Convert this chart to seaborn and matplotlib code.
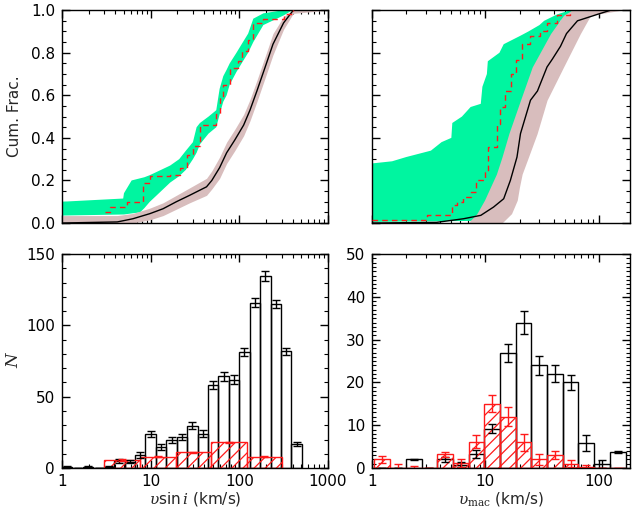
import numpy as np
import matplotlib
matplotlib.use("Agg")
import matplotlib.pyplot as plt
import seaborn as sns
from matplotlib.ticker import MultipleLocator, LogLocator, NullFormatter

# ---- top left: cumulative vsini ----
vs_all_x = [1, 4.2, 6.3, 9.8, 13.8, 19.5, 27.5, 42.7, 49, 60, 72, 89, 112, 132, 158, 195, 240, 316, 407, 1000]
vs_all_y = [0, 0.005, 0.02, 0.044, 0.067, 0.10, 0.13, 0.17, 0.20, 0.26, 0.33, 0.39, 0.46, 0.53, 0.62, 0.73, 0.84, 0.94, 1.0, 1.0]
# pink band edges (same x as the full sample)
vs_all_lo = [0, 0, 0, 0.015, 0.035, 0.065, 0.095, 0.13, 0.16, 0.21, 0.28, 0.34, 0.41, 0.48, 0.57, 0.68, 0.79, 0.91, 0.985, 1.0]
vs_all_hi = [0.035, 0.035, 0.045, 0.07, 0.095, 0.13, 0.165, 0.21, 0.245, 0.31, 0.38, 0.44, 0.51, 0.58, 0.67, 0.78, 0.89, 0.97, 1.0, 1.0]

vs_sub_x = [3.05, 3.5, 5.4, 8.2, 9.8, 16.6, 21.4, 25.5, 30, 36, 55, 60, 66, 78, 97, 106, 126, 144, 187, 316, 400]
vs_sub_y = [0.05, 0.075, 0.10, 0.19, 0.22, 0.225, 0.26, 0.32, 0.36, 0.46, 0.51, 0.59, 0.65, 0.73, 0.76, 0.81, 0.86, 0.94, 0.96, 0.98, 1.0]
# green band: upper and lower edges
vs_hi_x = [1, 4.9, 5.0, 6.1, 7.6, 8.5, 9.8, 11.7, 16.6, 21, 25, 30, 33, 36, 45, 55, 60, 66, 72, 78, 93, 110, 126, 144, 187, 316, 400]
vs_hi_y = [0.10, 0.115, 0.14, 0.20, 0.21, 0.215, 0.225, 0.24, 0.27, 0.30, 0.34, 0.38, 0.45, 0.47, 0.50, 0.53, 0.63, 0.69, 0.72, 0.75, 0.80, 0.85, 0.89, 0.96, 0.985, 1.0, 1.0]
vs_lo_x = vs_hi_x
vs_lo_y = [0.035, 0.04, 0.04, 0.045, 0.05, 0.07, 0.10, 0.13, 0.19, 0.22, 0.25, 0.30, 0.33, 0.37, 0.42, 0.45, 0.51, 0.57, 0.60, 0.65, 0.71, 0.76, 0.80, 0.85, 0.93, 0.975, 1.0]

# ---- top right: cumulative vmac ----
vm_all_x = [1, 3.7, 6.4, 9.1, 11.8, 14.5, 16.6, 19, 20.4, 25, 28.8, 35, 39, 46, 52, 65, 85, 104, 128, 190]
vm_all_y = [0, 0.003, 0.02, 0.036, 0.075, 0.114, 0.20, 0.31, 0.42, 0.577, 0.62, 0.733, 0.77, 0.83, 0.89, 0.95, 0.97, 0.985, 1.0, 1.0]
# pink band given as left / right x at fixed cumulative levels
vm_pk_y = [0, 0.044, 0.107, 0.17, 0.23, 0.31, 0.42, 0.577, 0.733, 0.89, 0.976, 1.0]
vm_pk_left = [7, 8.4, 9.8, 11.1, 12.5, 14.0, 16.1, 20.4, 25.9, 37.6, 49, 58]
vm_pk_right = [14, 17, 19.1, 20, 21.1, 24, 28.6, 35, 49, 69, 85, 160]

vm_sub_x = [1, 3.05, 5.1, 5.6, 6.4, 7.4, 8.2, 10, 10.6, 12.7, 13.5, 15, 16.7, 18.5, 21, 25, 30.6, 35, 43, 56]
vm_sub_y = [0.012, 0.036, 0.083, 0.10, 0.12, 0.146, 0.20, 0.24, 0.357, 0.467, 0.545, 0.62, 0.70, 0.765, 0.84, 0.88, 0.90, 0.94, 0.976, 1.0]
vm_hi_x = [1, 1.5, 2.0, 3.3, 4.1, 5.0, 5.1, 6.2, 7.4, 9.1, 9.4, 10.3, 10.5, 13.3, 14.5, 20.4, 24, 30, 33, 43, 56, 60]
vm_hi_y = [0.28, 0.29, 0.31, 0.34, 0.38, 0.40, 0.47, 0.50, 0.545, 0.56, 0.64, 0.70, 0.76, 0.80, 0.84, 0.88, 0.90, 0.93, 0.95, 0.98, 1.0, 1.0]
vm_lo_x = [1, 8, 11.1, 13.1, 16.6, 20.5, 25, 31.8, 37.6, 46, 60]
vm_lo_y = [0.005, 0.01, 0.044, 0.17, 0.31, 0.45, 0.59, 0.73, 0.84, 0.95, 1.0]

# ---- bottom left: vsini histogram ----
vs_edges = [1.0, 1.311, 1.719, 2.254, 2.955, 3.875, 5.081, 6.662, 8.735, 11.45, 15.02, 19.69,
            25.82, 33.85, 44.39, 58.2, 76.3, 100.0, 131.1, 171.9, 225.4, 295.5, 387.5, 508.1]
vs_counts = [1, 0, 1, 0, 1, 5, 4.5, 9.3, 24, 14.5, 19.7, 21.6, 29.8, 24, 58, 64.3, 62, 81.4,
             116, 135, 115, 82, 17]
vs_err = [0.5, 0, 0.5, 0, 0.6, 1.2, 1.2, 2, 2.2, 2, 2, 2.2, 2.5, 2.5, 2.8, 3, 3, 2.8, 3, 3.5, 3, 2.5, 1.5]
vs_sub_edges = [3.0, 7.6, 19.1, 48.0, 121, 305]
vs_sub_counts = [5.6, 7.9, 11, 18, 7.9]
vs_sub_err = [0.4, 0.3, 0.4, 0.5, 0.4]

# ---- bottom right: vmac histogram ----
vm_edges = [1.047, 1.440, 1.982, 2.727, 3.752, 5.163, 7.104, 9.775, 13.45, 18.51, 25.47,
            35.04, 48.22, 66.35, 91.29, 125.6, 172.8]
vm_counts = [0, 0, 2, 0, 2, 0.8, 3.3, 9.2, 27, 34, 24, 22, 20, 5.8, 1, 3.7]
vm_err = [0, 0, 0.1, 0, 0.6, 0.5, 0.9, 1.1, 2.1, 2.6, 2.2, 2.0, 1.8, 1.9, 0.9, 0.3]
vm_sub_counts = [2.0, 0, 0, 0, 3.2, 1.2, 6.2, 15, 12, 6, 2, 3, 1, 0.3, 0, 0]
vm_sub_err = [0.8, 0.9, 0.5, 0, 0.6, 0.9, 1.6, 2, 2.2, 2, 1.2, 1, 0.8, 0.4, 0, 0]

GREEN = "#00F5A0"
PINK = "#D8BDBD"
RED = "#FF1A1A"

sns.set_style("ticks")
plt.rcParams["font.family"] = ["DejaVu Sans"]
plt.rcParams["mathtext.fontset"] = "dejavuserif"
plt.rcParams["hatch.linewidth"] = 0.9
plt.rcParams["axes.linewidth"] = 1.0

fig = plt.figure(figsize=(6.33, 5.08), dpi=100)
ax_tl = fig.add_axes([0.098, 0.561, 0.420, 0.419])
ax_tr = fig.add_axes([0.588, 0.561, 0.4076, 0.419])
ax_bl = fig.add_axes([0.098, 0.0787, 0.420, 0.421])
ax_br = fig.add_axes([0.588, 0.0787, 0.4076, 0.421])


def band(ax, hx, hy, lx, ly, color):
    # polygon: upper edge left->right, lower edge right->left
    px = list(hx) + list(lx)[::-1]
    py = list(hy) + list(ly)[::-1]
    ax.fill(px, py, color=color, lw=0, zorder=1)


def cum_lines(ax, ax_x, ay, sx, sy):
    sns.lineplot(x=ax_x, y=ay, ax=ax, color="black", lw=1.0,
                 estimator=None, sort=False, zorder=3)
    sns.lineplot(x=sx, y=sy, ax=ax, color=RED, lw=1.0, drawstyle="steps-post",
                 estimator=None, sort=False, linestyle=(0, (4, 3)), zorder=4)
    ax.set_ylim(0, 1)
    ax.yaxis.set_major_locator(MultipleLocator(0.2))
    ax.yaxis.set_minor_locator(MultipleLocator(0.05))


def hist_panel(ax, edges, counts, err, sub_edges, sub_counts, sub_err):
    ax.set_xscale("log")
    e = np.array(edges)
    ax.bar(e[:-1], counts, width=np.diff(e), align="edge", fill=False,
           edgecolor="black", lw=1.0)
    ax.errorbar(np.sqrt(e[:-1] * e[1:]), counts, yerr=err, fmt="none",
                ecolor="black", elinewidth=1.0, capsize=3, capthick=1.0)
    s = np.array(sub_edges)
    ax.bar(s[:-1], sub_counts, width=np.diff(s), align="edge", fill=False,
           edgecolor=RED, lw=1.0, hatch="///")
    ax.errorbar(np.sqrt(s[:-1] * s[1:]), sub_counts, yerr=sub_err, fmt="none",
                ecolor=RED, elinewidth=1.0, capsize=3, capthick=1.0)


# top left
ax_tl.set_xscale("log")
band(ax_tl, vs_hi_x, vs_hi_y, vs_lo_x, vs_lo_y, GREEN)
ax_tl.fill_between(vs_all_x, vs_all_lo, vs_all_hi, color=PINK, lw=0, zorder=2)
cum_lines(ax_tl, vs_all_x, vs_all_y, vs_sub_x, vs_sub_y)
ax_tl.set_xlim(1, 1000)
ax_tl.yaxis.set_major_formatter(matplotlib.ticker.FormatStrFormatter("%.1f"))
ax_tl.set_ylabel("Cum. Frac.", fontsize=11)
ax_tl.yaxis.set_label_coords(-0.15, 0.5)

# top right
ax_tr.set_xscale("log")
band(ax_tr, vm_hi_x, vm_hi_y, vm_lo_x, vm_lo_y, GREEN)
ax_tr.fill_betweenx(vm_pk_y, vm_pk_left, vm_pk_right, color=PINK, lw=0, zorder=2)
cum_lines(ax_tr, vm_all_x, vm_all_y, vm_sub_x, vm_sub_y)
ax_tr.set_xlim(1, 190)
ax_tr.yaxis.set_major_formatter(NullFormatter())

# bottom left
hist_panel(ax_bl, vs_edges, vs_counts, vs_err, vs_sub_edges, vs_sub_counts, vs_sub_err)
ax_bl.set_xlim(1, 1000)
ax_bl.set_ylim(0, 150)
ax_bl.yaxis.set_major_locator(MultipleLocator(50))
ax_bl.yaxis.set_minor_locator(MultipleLocator(10))
ax_bl.set_ylabel("N", fontsize=12, fontstyle="italic", family="DejaVu Serif")
ax_bl.yaxis.set_label_coords(-0.15, 0.5)
ax_bl.set_xlabel(r"$\upsilon$sin$\,i$ (km/s)", fontsize=11, labelpad=1)

# bottom right
hist_panel(ax_br, vm_edges, vm_counts, vm_err, vm_edges, vm_sub_counts, vm_sub_err)
ax_br.set_xlim(1, 190)
ax_br.set_ylim(0, 50)
ax_br.yaxis.set_major_locator(MultipleLocator(10))
ax_br.yaxis.set_minor_locator(MultipleLocator(1))
ax_br.set_xlabel(r"$\upsilon_{\rm mac}$ (km/s)", fontsize=11, labelpad=1)

for ax in (ax_tl, ax_tr, ax_bl, ax_br):
    for sp in ax.spines.values():
        sp.set_visible(True)
        sp.set_color("black")
        sp.set_linewidth(1.0)
    ax.xaxis.set_major_locator(LogLocator(base=10, numticks=10))
    ax.xaxis.set_minor_locator(LogLocator(base=10, subs=np.arange(2, 10), numticks=20))
    ax.xaxis.set_minor_formatter(NullFormatter())
    ax.tick_params(which="both", direction="in", top=True, right=True, colors="black",
                   labelsize=11)
    ax.tick_params(which="major", length=6, width=1.0, pad=5)
    ax.tick_params(which="minor", length=3, width=0.8)

for ax in (ax_bl, ax_br):
    ax.xaxis.set_major_formatter(matplotlib.ticker.FuncFormatter(lambda v, p: f"{v:g}"))
    ax.tick_params(axis="x", pad=4)
for ax in (ax_tl, ax_tr):
    ax.xaxis.set_major_formatter(NullFormatter())

fig.savefig("out.png", dpi=100)
